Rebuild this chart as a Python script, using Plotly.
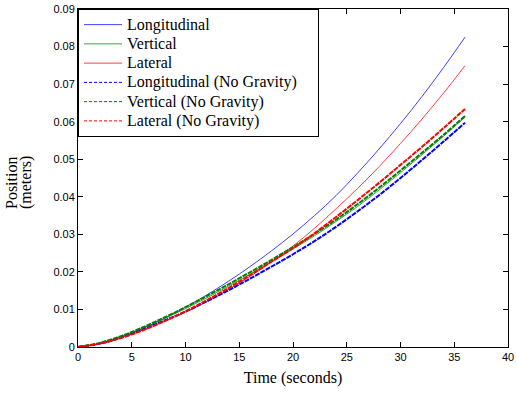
import plotly.graph_objects as go

time_s = [0, 2, 4, 6, 8, 10, 12, 14, 16, 18, 20, 22, 24, 26, 28, 30, 32, 34, 36]

longitudinal = [0, 0.0009, 0.0026, 0.0049, 0.0076, 0.0106, 0.0139, 0.0175, 0.0214, 0.0256,
                0.0301, 0.0350, 0.0403, 0.0463, 0.0527, 0.0595, 0.0667, 0.0744, 0.0825]
vertical = [0, 0.0010, 0.0028, 0.0050, 0.0075, 0.0102, 0.0131, 0.0162, 0.0194, 0.0227,
            0.0261, 0.0296, 0.0334, 0.0374, 0.0418, 0.0464, 0.0512, 0.0561, 0.0612]
lateral = [0, 0.0008, 0.0024, 0.0045, 0.0068, 0.0093, 0.0121, 0.0153, 0.0188, 0.0227,
           0.0269, 0.0316, 0.0368, 0.0422, 0.0480, 0.0542, 0.0607, 0.0676, 0.0749]
longitudinal_ng = [0, 0.0009, 0.0025, 0.0046, 0.0070, 0.0094, 0.0122, 0.0151, 0.0182, 0.0214,
                   0.0247, 0.0282, 0.0320, 0.0361, 0.0404, 0.0450, 0.0498, 0.0547, 0.0597]
vertical_ng = [0, 0.0011, 0.0029, 0.0052, 0.0078, 0.0106, 0.0136, 0.0167, 0.0199, 0.0232,
               0.0266, 0.0301, 0.0339, 0.0380, 0.0424, 0.0470, 0.0517, 0.0565, 0.0615]
lateral_ng = [0, 0.0009, 0.0024, 0.0044, 0.0068, 0.0095, 0.0125, 0.0157, 0.0191, 0.0227,
              0.0263, 0.0303, 0.0346, 0.0391, 0.0437, 0.0485, 0.0533, 0.0583, 0.0634]

x_ticks = [0, 5, 10, 15, 20, 25, 30, 35, 40]
y_ticks = [0, 0.01, 0.02, 0.03, 0.04, 0.05, 0.06, 0.07, 0.08, 0.09]
y_tick_text = ["0", "0.01", "0.02", "0.03", "0.04", "0.05", "0.06", "0.07", "0.08", "0.09"]

BLUE = "rgb(0,0,255)"
GREEN = "rgb(0,128,0)"
RED = "rgb(255,0,0)"
SERIF = "Liberation Serif, Times New Roman, serif"
SANS = "Liberation Sans, Arial, sans-serif"


def big(t, pad=""):
    return '<span style="font-size:16px">' + t + pad + '</span>'


fig = go.Figure()

solid = [("Longitudinal", longitudinal, BLUE), ("Vertical", vertical, GREEN), ("Lateral", lateral, RED)]
dashed = [("Longitudinal (No Gravity)", longitudinal_ng, BLUE),
          ("Vertical (No Gravity)", vertical_ng, GREEN),
          ("Lateral (No Gravity)", lateral_ng, RED)]

for name, ys, col in solid:
    fig.add_trace(go.Scatter(x=time_s, y=ys, mode="lines", name=big(name), legendgroup=name,
                             line=dict(color=col, width=1, shape="spline"), opacity=0.75))

for i, (name, ys, col) in enumerate(dashed):
    pad = "&nbsp;" * 4 if i == 0 else ""
    fig.add_trace(go.Scatter(x=time_s, y=ys, mode="lines", name=big(name), legendgroup=name,
                             showlegend=False,
                             line=dict(color=col, width=2, shape="spline", dash="5px,1px")))
    fig.add_trace(go.Scatter(x=[None], y=[None], mode="lines", name=big(name, pad), legendgroup=name,
                             line=dict(color=col, width=1, dash="3px,2px")))

axis_common = dict(showline=True, linecolor="black", linewidth=1, mirror="ticks",
                   ticks="inside", ticklen=5, tickcolor="black", showgrid=False, zeroline=False,
                   ticklabeloverflow="allow",
                   tickfont=dict(family=SANS, size=11, color="black"))

fig.update_xaxes(range=[0, 40], tickvals=x_ticks,
                 title=dict(text="Time (seconds)", standoff=9,
                            font=dict(family=SERIF, size=16, color="black")),
                 **axis_common)
fig.update_yaxes(range=[0, 0.09], tickvals=y_ticks, ticktext=y_tick_text,
                 **axis_common)

fig.add_annotation(text="Position", xref="paper", yref="paper", x=0, y=0.5, xanchor="center",
                   yanchor="middle", xshift=-67, yshift=-5, textangle=-90, showarrow=False,
                   font=dict(family=SERIF, size=16, color="black"))
fig.add_annotation(text="(meters)", xref="paper", yref="paper", x=0, y=0.5, xanchor="center",
                   yanchor="middle", xshift=-52, yshift=-5, textangle=-90, showarrow=False,
                   font=dict(family=SERIF, size=16, color="black"))

fig.update_layout(
    width=517, height=394,
    margin=dict(l=78, r=3, t=5, b=47),
    paper_bgcolor="white", plot_bgcolor="white",
    legend=dict(x=0, y=1, xanchor="left", yanchor="top", bgcolor="white",
                bordercolor="black", borderwidth=1, tracegroupgap=0, itemwidth=38,
                font=dict(family=SERIF, size=12.5, color="black")),
)

fig.write_html("out.html")
